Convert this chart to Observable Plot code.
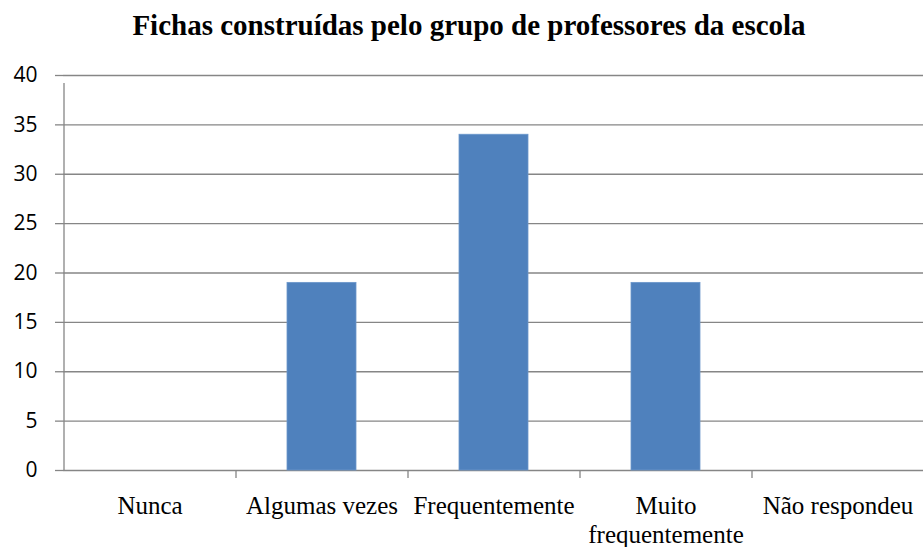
<!DOCTYPE html>
<html>
<head>
<meta charset="utf-8">
<script src="https://cdn.jsdelivr.net/npm/d3@7"></script>
<script src="https://cdn.jsdelivr.net/npm/@observablehq/plot@0.6"></script>
<style>
  body { margin: 0; background: #fff; }
  #title {
    width: 908px; padding-left: 15px; height: 50px; line-height: 50px;
    text-align: center; font-family: "Liberation Serif", "Times New Roman", serif;
    font-weight: bold; font-size: 29px; color: #000; white-space: nowrap;
  }
  #chart svg { display: block; }
</style>
</head>
<body>
<div id="title">Fichas construídas pelo grupo de professores da escola</div>
<div id="chart"></div>
<script>
const categories = ["Nunca", "Algumas vezes", "Frequentemente", "Muito frequentemente", "Não respondeu"];
const tickLabels = ["Nunca", "Algumas vezes", "Frequentemente", "Muito\nfrequentemente", "Não respondeu"];
const values = [0, 19, 34, 19, 0];
const yTicks = [0, 5, 10, 15, 20, 25, 30, 35, 40];

const data = categories.map((c, i) => ({category: c, value: values[i]}));
const labelOf = new Map(categories.map((c, i) => [c, tickLabels[i]]));

const gridColor = "#868686";
const W = 923, ML = 63, MR = 0;
const halfStep = (W - ML - MR) / categories.length / 2;

const chart = Plot.plot({
  width: W,
  height: 497,
  marginTop: 25,
  marginBottom: 77,
  marginLeft: ML,
  marginRight: MR,
  style: { background: "#fff", overflow: "visible" },
  x: { type: "band", domain: categories, paddingInner: 0.6, paddingOuter: 0.3 },
  y: { type: "linear", domain: [0, 40] },
  marks: [
    Plot.ruleY(yTicks, { y: d => d, stroke: gridColor, strokeWidth: 1.3, strokeOpacity: 1 }),
    Plot.barY(data, { x: "category", y: "value", fill: "#4F81BD", stroke: "#6b97cb", strokeWidth: 0.8 }),
    // vertical axis line (left edge of first band), extending below zero like a tick
    Plot.ruleX([categories[0]], { x: d => d, y1: 0, y2: 40, dx: -halfStep, stroke: gridColor, strokeWidth: 1.3, insetBottom: -8 }),
    // category boundary tick marks
    Plot.ruleX(categories.slice(1), { x: d => d, y1: 0, y2: 0, dx: -halfStep, stroke: gridColor, strokeWidth: 1.3, insetBottom: -8 }),
    Plot.axisY({
      ticks: yTicks, tickSize: 8, tickPadding: 18, stroke: gridColor, strokeWidth: 1.3, strokeOpacity: 1,
      fontSize: 21, fontFamily: "Open Sans, Liberation Sans, sans-serif", fill: "#000", label: null
    }),
    Plot.axisX({
      tickSize: 0, tickPadding: 23, fontSize: 25, lineHeight: 1.15,
      fontFamily: "Liberation Serif, Times New Roman, serif", fill: "#000", label: null,
      tickFormat: d => labelOf.get(d)
    })
  ]
});
document.getElementById("chart").appendChild(chart);
</script>
</body>
</html>
